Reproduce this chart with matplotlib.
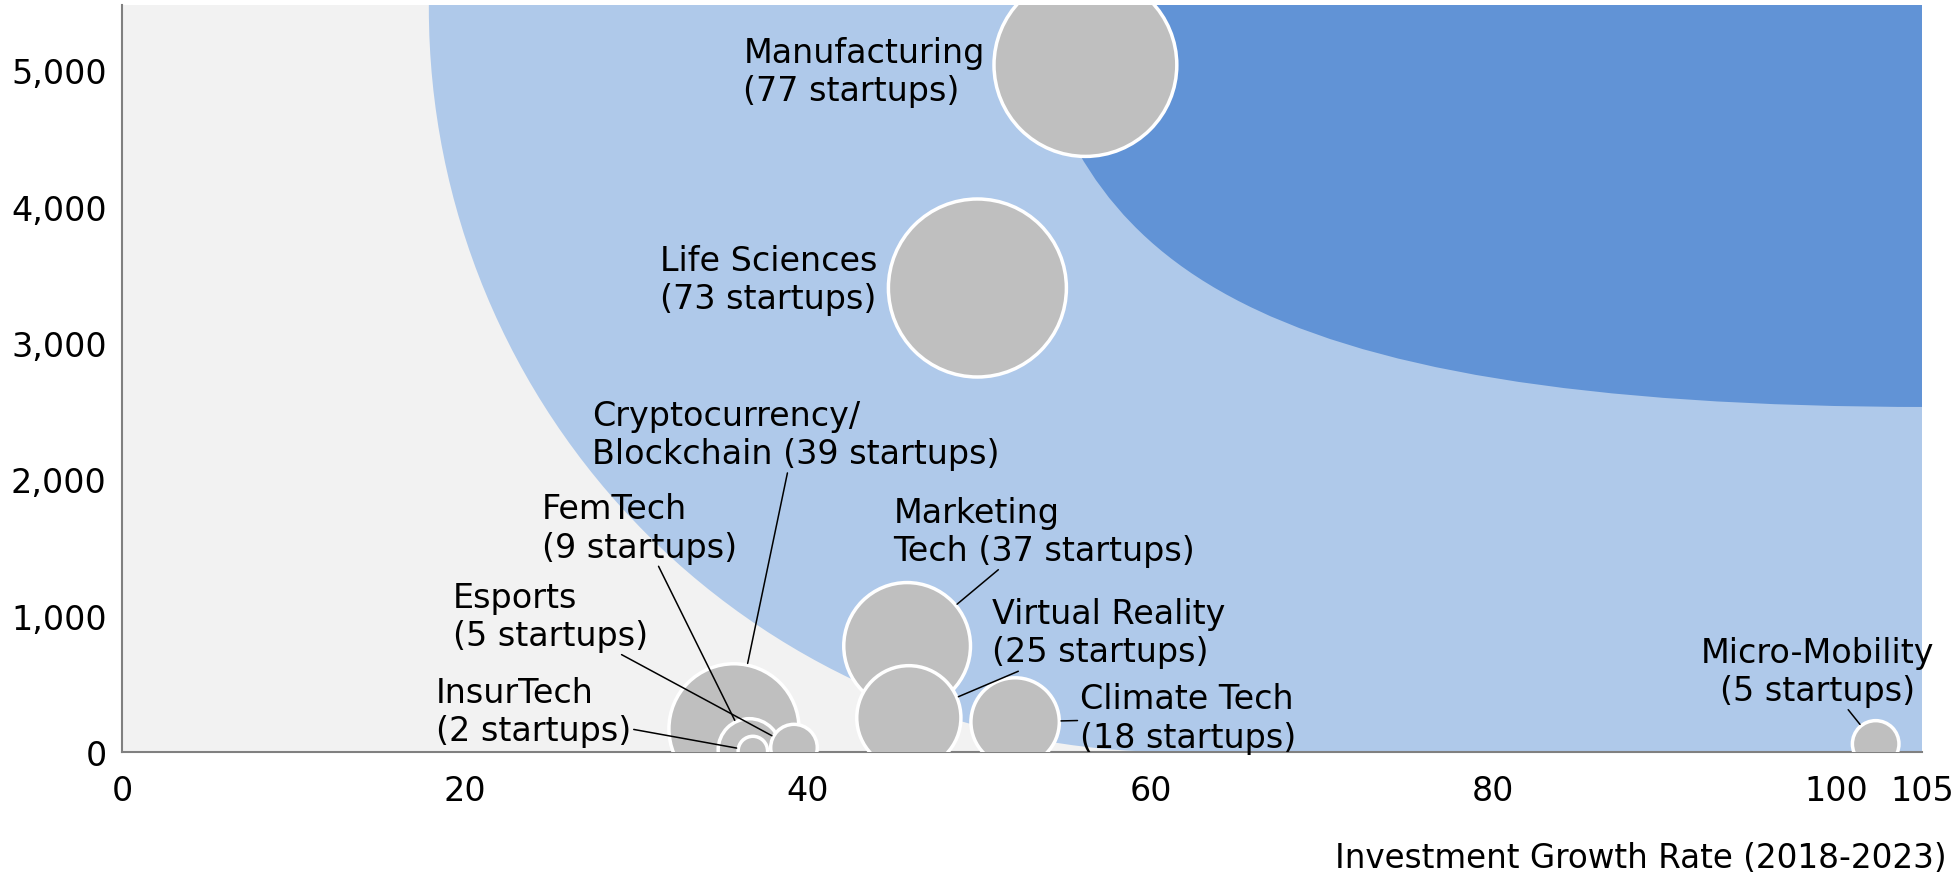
import numpy as np
import matplotlib.pyplot as plt
from matplotlib.patches import Ellipse, Rectangle, PathPatch
from matplotlib.path import Path

plt.rcParams['font.family'] = ['DejaVu Sans']

# sector data: growth rate (x), investment (y), number of startups (bubble size)
label_heads = ["Manufacturing\n", "Life Sciences\n", "Cryptocurrency/\nBlockchain ",
               "FemTech\n", "InsurTech\n", "Esports\n", "Marketing\nTech ",
               "Virtual Reality\n", "Climate Tech\n", "Micro-Mobility\n"]
growth = [56.2, 49.9, 35.7, 36.6, 36.8, 39.2, 45.8, 45.9, 52.1, 102.3]
investment = [5040, 3404, 170, 15, 7, 32, 778, 251, 220, 59]
startups = [77, 73, 39, 9, 2, 5, 37, 25, 18, 5]

x_ticks = [0, 20, 40, 60, 80, 100, 105]
y_ticks = [0, 1000, 2000, 3000, 4000, 5000]

# label placement (left/top of text block, data units) and leader line flag
label_x = [36.25, 31.4, 27.4, 24.5, 18.3, 19.3, 45.0, 50.75, 55.9, 98.9]
label_y = [5255, 3727, 2590, 1905, 560, 1257, 1880, 1135, 511, 853]
leader = [False, False, True, True, True, True, True, True, True, True]

light_gray = "#f2f2f2"
light_blue = "#afc9ea"
dark_blue = "#6193d6"
bubble_gray = "#bfbfbf"

fig = plt.figure(figsize=(19.55, 8.87), dpi=100)
ax = fig.add_axes([0.0624, 0.1511, 0.9207, 0.8421])
ax.set_xlim(0, 105)
ax.set_ylim(0, 5480)
ax.set_facecolor(light_gray)

# background zones
ax.add_patch(Ellipse((61.3, 5458), 86.8, 10916, color=light_blue, lw=0, zorder=0))
ax.add_patch(Rectangle((61.3, 0), 50, 6000, color=light_blue, lw=0, zorder=0))
verts = [(52.67, 5480), (55.88, 3690), (64.05, 2531), (105.5, 2531),
         (105.5, 5600), (52.67, 5600), (52.67, 5480)]
codes = [Path.MOVETO, Path.CURVE4, Path.CURVE4, Path.CURVE4,
         Path.LINETO, Path.LINETO, Path.CLOSEPOLY]
ax.add_patch(PathPatch(Path(verts, codes), facecolor=dark_blue, lw=0, zorder=0.5))

sizes = [225 * n for n in startups]
edge_lw = 2.5
ax.scatter(growth, investment, s=sizes, color=bubble_gray, edgecolors="white",
           linewidths=edge_lw, zorder=3)

for i in range(len(growth)):
    text = f"{label_heads[i]}({startups[i]} startups)"
    ha = "center" if i == len(growth) - 1 else "left"
    arrow = None
    if leader[i]:
        rad = np.sqrt(sizes[i]) / 2 + edge_lw / 2
        arrow = dict(arrowstyle="-", color="black", lw=1.1, shrinkA=0, shrinkB=rad)
    ax.annotate(text, xy=(growth[i], investment[i]), xytext=(label_x[i], label_y[i]),
                textcoords="data", ha=ha, va="top", multialignment=ha,
                fontsize=24, color="black", arrowprops=arrow, zorder=4)

for side in ["top", "right"]:
    ax.spines[side].set_visible(False)
for side in ["left", "bottom"]:
    ax.spines[side].set_color("#808080")
    ax.spines[side].set_linewidth(1.5)

ax.set_xticks(x_ticks)
ax.set_yticks(y_ticks)
ax.set_yticklabels([f"{v:,}" for v in y_ticks])
ax.tick_params(axis="both", length=0, labelsize=24, colors="black")
ax.tick_params(axis="x", pad=16)
ax.tick_params(axis="y", pad=11)

fig.text(1947 / 1955, (887 - 868) / 887, "Investment Growth Rate (2018-2023)",
         ha="right", va="baseline", fontsize=23.5)

fig.savefig("out.png", dpi=100)
